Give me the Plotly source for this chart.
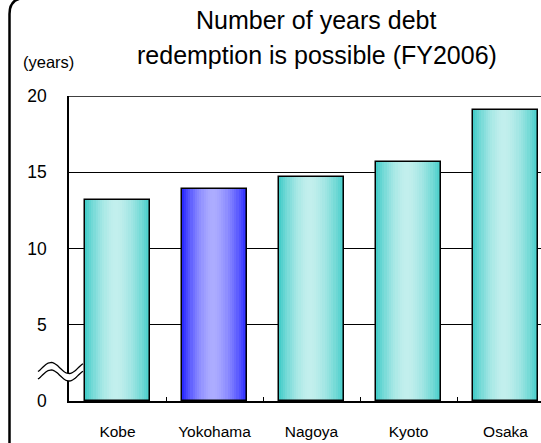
import math
import plotly.graph_objects as go

# Debt redemption period by city (years), FY2006
cities = ["Kobe", "Yokohama", "Nagoya", "Kyoto", "Osaka"]
years = [13.2, 13.9, 14.7, 15.7, 19.1]
highlight = "Yokohama"
y_ticks = [0, 5, 10, 15, 20]

FONT = "Arial, 'Liberation Sans', sans-serif"
W, H = 541, 443
ML, MR, MT, MB = 69, 0, 96, 42
PW, PH = W - ML - MR, H - MT - MB

BAR_W = 0.68
N_SLICES = 30
TEAL = ((62, 203, 199), (194, 239, 237))
BLUE = ((34, 34, 255), (172, 172, 255))


def px(x):
    return (x - ML) / PW


def py(y):
    return (H - MB - y) / PH


def shade(pair, t):
    dark, light = pair
    c = 0.47
    h = c if t < c else 1 - c
    f = max(0.0, 1 - (abs(t - c) / h) ** 1.7)
    return "rgb(%d,%d,%d)" % tuple(round(d + (l - d) * f) for d, l in zip(dark, light))


fig = go.Figure()

# cylinder-like shading: each bar is built from thin vertical slices
step = BAR_W / N_SLICES
for i in range(N_SLICES):
    t = (i + 0.5) / N_SLICES
    cols = [shade(BLUE if c == highlight else TEAL, t) for c in cities]
    wid = step * (1.0 if i == N_SLICES - 1 else 1.6)
    fig.add_trace(go.Bar(
        x=cities, y=years, width=[wid] * len(cities),
        offset=[-BAR_W / 2 + i * step] * len(cities),
        marker=dict(color=cols, line=dict(width=0)),
        hoverinfo="skip", showlegend=False,
    ))

# bar outlines
fig.add_trace(go.Bar(
    x=cities, y=years, width=[BAR_W] * len(cities),
    offset=[-BAR_W / 2] * len(cities),
    marker=dict(color="rgba(0,0,0,0)", line=dict(color="black", width=1.5)),
    hovertemplate="%{x}: %{y} years<extra></extra>", showlegend=False,
))

# top border of the plot area at the axis maximum
shapes = [dict(type="line", xref="paper", x0=0, x1=1, yref="y",
               y0=y_ticks[-1], y1=y_ticks[-1], line=dict(color="black", width=1.3),
               layer="above")]

# axis-break symbol (two waves with white gap) across the y axis
def wave(yc, x0=38, x1=83, n=40):
    pts = []
    for k in range(n + 1):
        x = x0 + (x1 - x0) * k / n
        y = yc - 5.5 * math.sin(2 * math.pi * (x - 42) / 36)
        pts.append((x, y))
    return pts

upper = wave(368)
lower = wave(375.5)
gap = "M " + " L ".join(f"{px(x):.5f},{py(y):.5f}" for x, y in upper)
gap += " L " + " L ".join(f"{px(x):.5f},{py(y):.5f}" for x, y in reversed(lower)) + " Z"
shapes.append(dict(type="path", path=gap, xref="paper", yref="paper",
                   fillcolor="white", line=dict(width=0), layer="above"))
for pts in (upper, lower):
    p = "M " + " L ".join(f"{px(x):.5f},{py(y):.5f}" for x, y in pts)
    shapes.append(dict(type="path", path=p, xref="paper", yref="paper",
                       line=dict(color="black", width=1.3), layer="above"))

# rounded outer frame
r = 16
fx0, fy0, fx1, fy1 = 9.5, -2, 600, 500
frame = (f"M {px(fx0)},{py(fy1)} L {px(fx0)},{py(fy0 + r)} "
         f"Q {px(fx0)},{py(fy0)} {px(fx0 + r)},{py(fy0)} L {px(fx1)},{py(fy0)}")
shapes.append(dict(type="path", path=frame, xref="paper", yref="paper",
                   line=dict(color="black", width=2.5), layer="above"))

annotations = [
    dict(text="Number of years debt", x=px(316), y=py(20), xref="paper", yref="paper",
         showarrow=False, font=dict(family=FONT, size=25, color="black"),
         xanchor="center", yanchor="middle"),
    dict(text="redemption is possible (FY2006)", x=px(317), y=py(55), xref="paper",
         yref="paper", showarrow=False, font=dict(family=FONT, size=25, color="black"),
         xanchor="center", yanchor="middle"),
    dict(text="(years)", x=px(48), y=py(62), xref="paper", yref="paper",
         showarrow=False, font=dict(family=FONT, size=16.5, color="black"),
         xanchor="center", yanchor="middle"),
]

fig.update_layout(
    width=W, height=H,
    margin=dict(l=ML, r=MR, t=MT, b=MB, pad=0),
    paper_bgcolor="white", plot_bgcolor="white",
    barmode="overlay", bargap=0,
    showlegend=False,
    shapes=shapes, annotations=annotations,
    font=dict(family=FONT, color="black"),
)
fig.update_xaxes(
    type="category", range=[-0.5, 4.5 - 13 / 97],
    showline=True, linecolor="black", linewidth=2,
    ticks="inside", tickson="boundaries", ticklen=4, tickcolor="black", tickwidth=1,
    tickfont=dict(family=FONT, size=15.5, color="black"),
    ticklabelstandoff=15, showgrid=False, zeroline=False,
)
fig.update_yaxes(
    range=[0, 20], tickvals=y_ticks, ticktext=[str(v) for v in y_ticks],
    showline=True, linecolor="black", linewidth=1.5,
    showgrid=True, gridcolor="black", gridwidth=1,
    ticks="", tickfont=dict(family=FONT, size=17.5, color="black"),
    ticklabelstandoff=17, zeroline=False,
)

fig.write_html("out.html")
